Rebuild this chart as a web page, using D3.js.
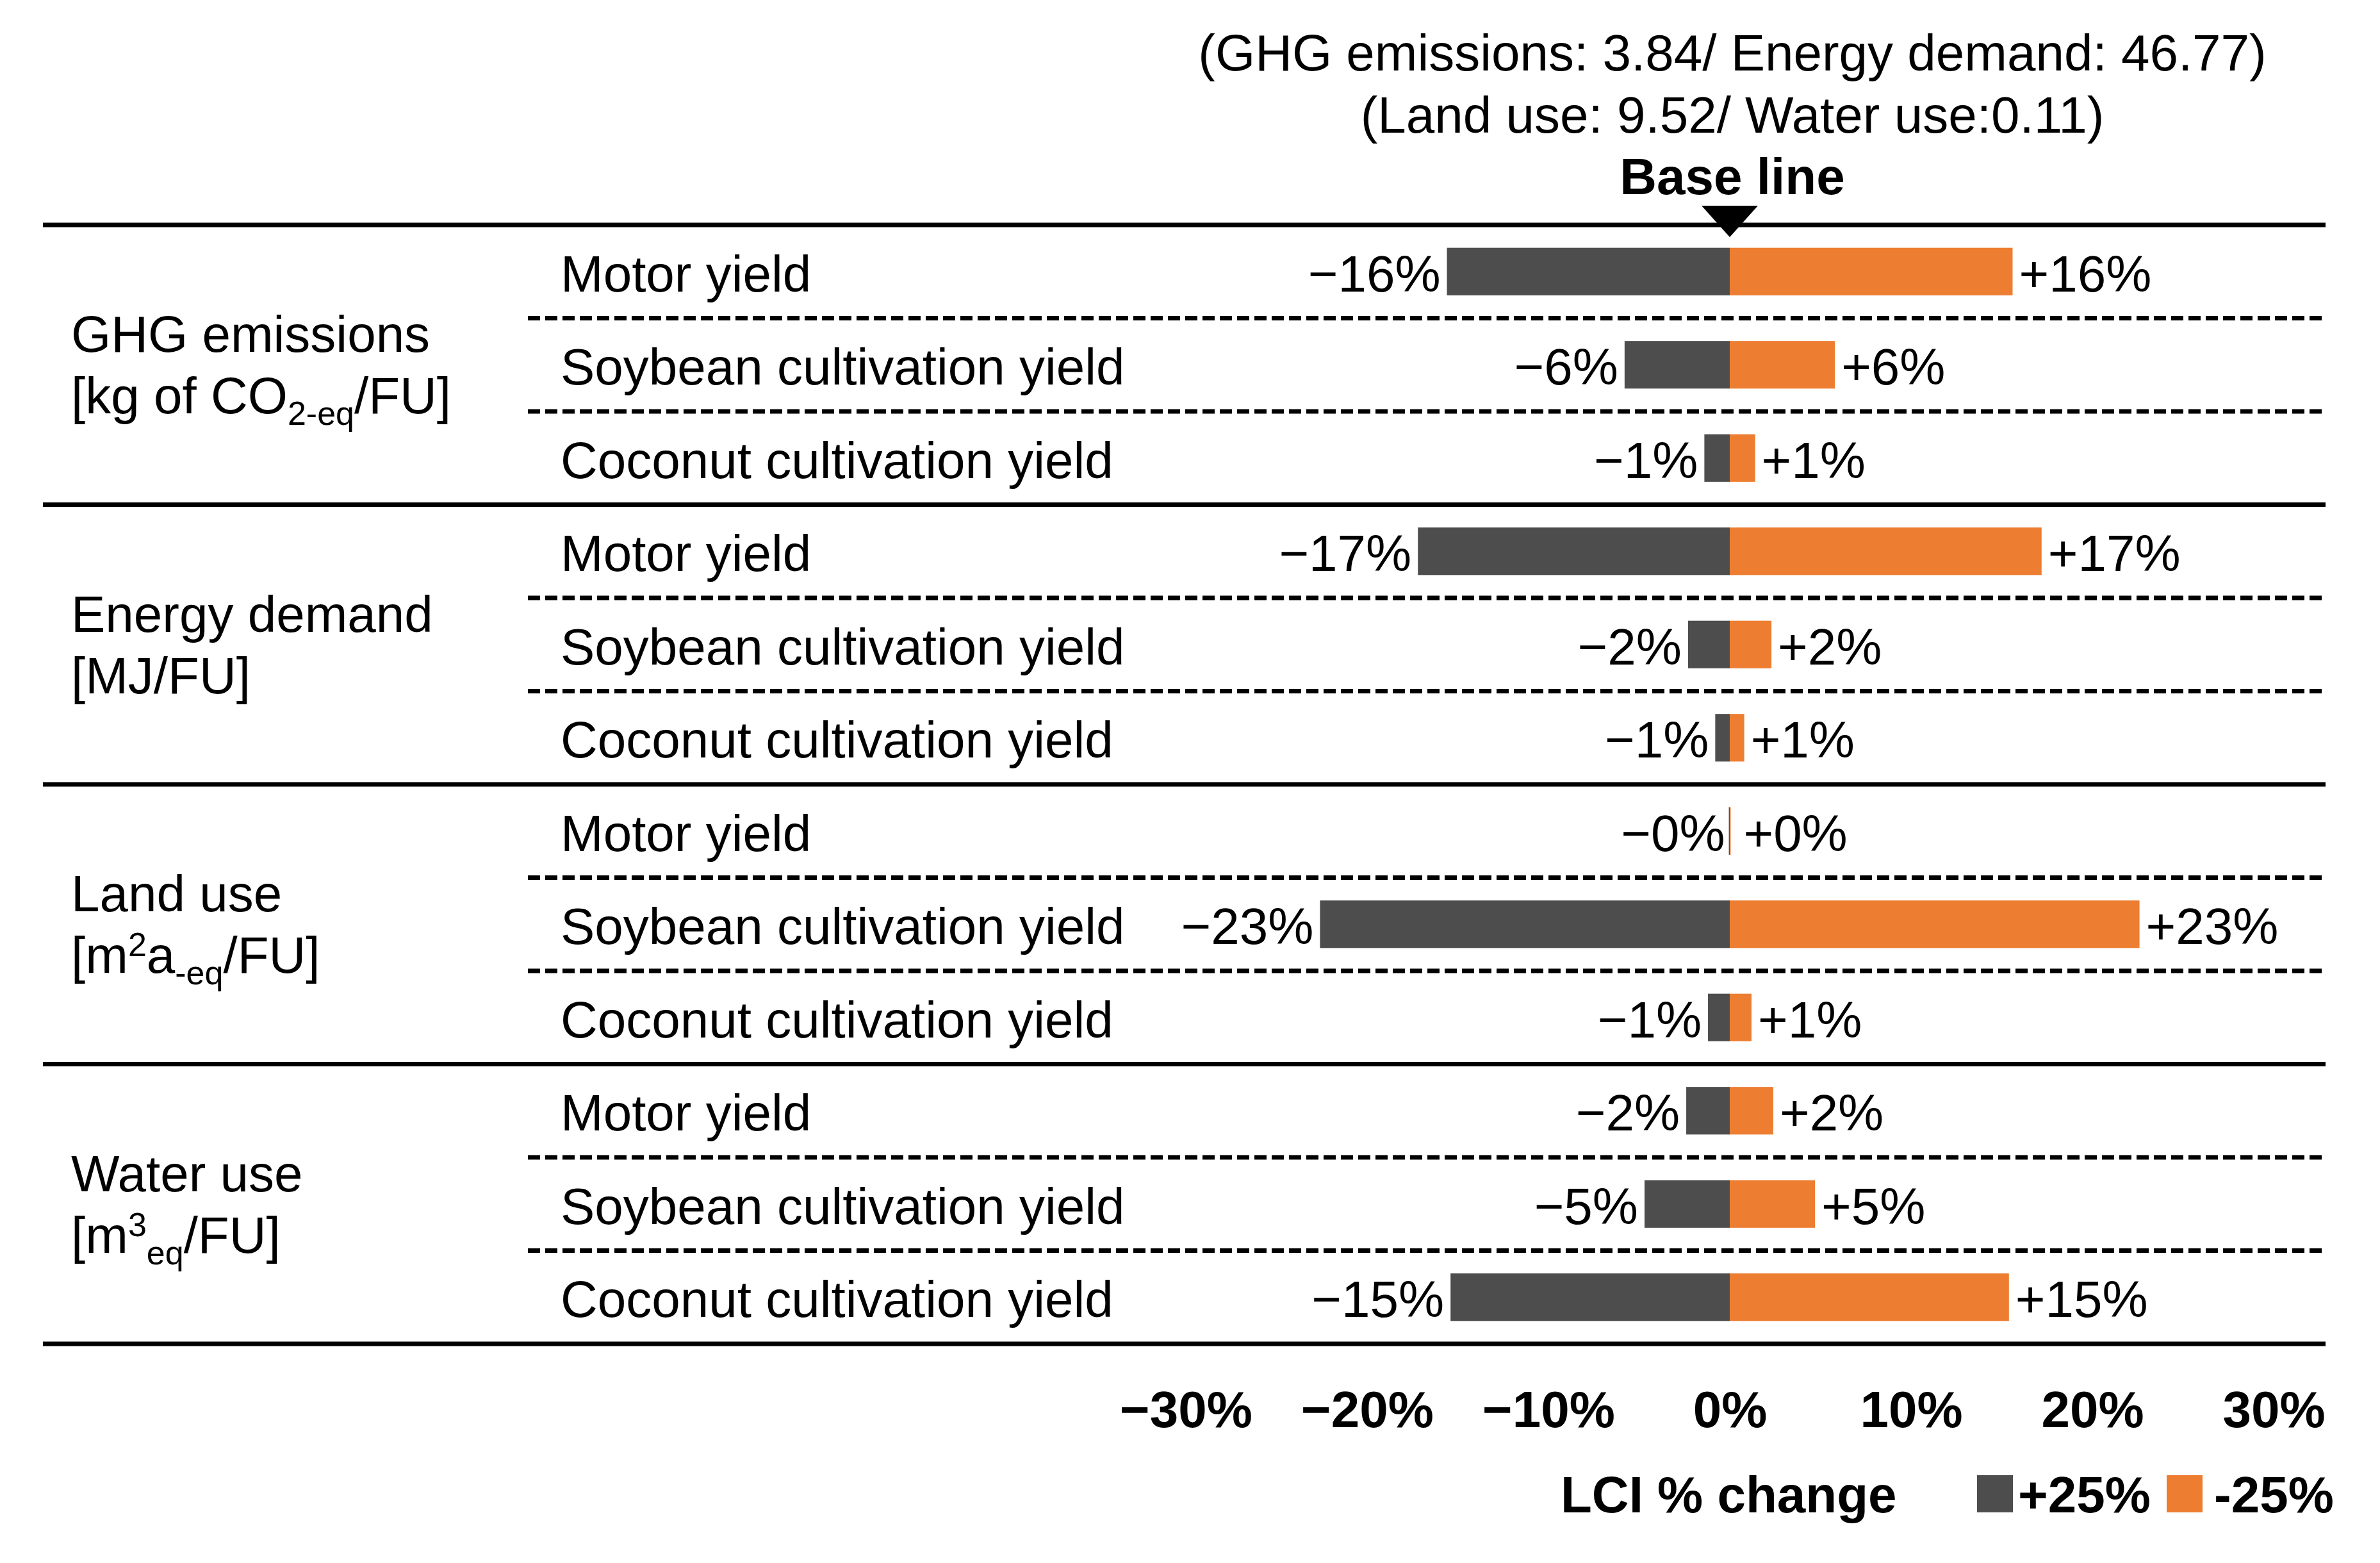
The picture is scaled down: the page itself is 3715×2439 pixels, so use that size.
<!DOCTYPE html>
<html>
<head>
<meta charset="utf-8">
<script src="https://cdn.jsdelivr.net/npm/d3@7"></script>
<style>
  body { margin: 0; background: #fff; }
  text { font-family: "Liberation Sans", Arial, sans-serif; }
</style>
</head>
<body>
<div id="chart"></div>
<script>
// data
const groups = ["GHG emissions", "Energy demand", "Land use", "Water use"];
const factors = ["Motor yield", "Soybean cultivation yield", "Coconut cultivation yield"];
// LCI +25% (grey, left) and LCI -25% (orange, right), in % change
const plusLCI  = [-15.6, -5.8, -1.4, -17.2, -2.3, -0.8, -0.05, -22.6, -1.2, -2.4, -4.7, -15.4];
const minusLCI = [ 15.6,  5.8,  1.4,  17.2,  2.3,  0.8,  0.05,  22.6,  1.2,  2.4,  4.7,  15.4];
const tickValues = [-30, -20, -10, 0, 10, 20, 30];
const headerLines = ["(GHG emissions: 3.84/ Energy demand: 46.77)", "(Land use: 9.52/ Water use:0.11)"];
// unit label pieces: [text, "" | "sub" | "sup"]
const units = [
  [["[kg of CO", ""], ["2-eq", "sub"], ["/FU]", ""]],
  [["[MJ/FU]", ""]],
  [["[m", ""], ["2", "sup"], ["a", ""], ["-eq", "sub"], ["/FU]", ""]],
  [["[m", ""], ["3", "sup"], ["eq", "sub"], ["/FU]", ""]]
];
const legendItems = [{label: "+25%", color: "#4d4d4d"}, {label: "-25%", color: "#ed7d31"}];

const W = 3715, H = 2439;
const fs = 80;
const yTop = 351, yBottom = 2097;
const lineLeft = 67, dashLeft = 824, lineRight = 3630;

const svg = d3.select("#chart").append("svg")
    .attr("width", W)
    .attr("height", H);
svg.append("rect").attr("width", W).attr("height", H).attr("fill", "#fff");

// scales
const x = d3.scaleLinear()
    .domain([-30, 30])
    .range([1851, 3549]);

const rows = [];
groups.forEach((g, gi) => factors.forEach((f, fi) => rows.push({group: g, factor: f, gi: gi, fi: fi})));
rows.forEach((r, i) => { r.id = i; r.lo = plusLCI[i]; r.hi = minusLCI[i]; });

const y = d3.scaleBand()
    .domain(rows.map(d => d.id))
    .range([yTop, yBottom]);
const barH = y.bandwidth() * 0.51;
const groupH = y.bandwidth() * factors.length;

// header
svg.selectAll(".head")
  .data(headerLines)
  .enter().append("text")
    .attr("x", x(0) + 4)
    .attr("y", (d, i) => 110 + i * 97)
    .attr("text-anchor", "middle")
    .attr("font-size", fs)
    .text(d => d);

svg.append("text")
    .attr("x", x(0) + 4)
    .attr("y", 303)
    .attr("text-anchor", "middle")
    .attr("font-size", fs)
    .attr("font-weight", "bold")
    .text("Base line");

// dashed separators between rows within a group
svg.append("g").selectAll("line")
  .data(rows.filter(d => d.fi > 0))
  .enter().append("line")
    .attr("x1", dashLeft).attr("x2", lineRight)
    .attr("y1", d => y(d.id)).attr("y2", d => y(d.id))
    .attr("stroke", "#000")
    .attr("stroke-width", 7)
    .attr("stroke-dasharray", "19,8");

// solid group separators
svg.append("g").selectAll("line")
  .data(d3.range(groups.length + 1))
  .enter().append("line")
    .attr("x1", lineLeft).attr("x2", lineRight)
    .attr("y1", d => yTop + d * groupH).attr("y2", d => yTop + d * groupH)
    .attr("stroke", "#000")
    .attr("stroke-width", 7);

// base line marker
svg.append("path")
    .attr("d", `M${x(0) - 44},321 L${x(0) + 44},321 L${x(0)},370 Z`)
    .attr("fill", "#000");

// bars
svg.append("g").selectAll("rect")
  .data(rows)
  .enter().append("rect")
    .attr("x", d => x(d.lo))
    .attr("y", d => y(d.id) + (y.bandwidth() - barH) / 2)
    .attr("width", d => x(0) - x(d.lo))
    .attr("height", barH)
    .attr("fill", "#4d4d4d");

svg.append("g").selectAll("rect")
  .data(rows)
  .enter().append("rect")
    .attr("x", x(0))
    .attr("y", d => y(d.id) + (y.bandwidth() - barH) / 2)
    .attr("width", d => x(d.hi) - x(0))
    .attr("height", barH)
    .attr("fill", "#ed7d31");

// value labels
const mid = d => y(d.id) + y.bandwidth() / 2 + 31;
svg.append("g").selectAll("text")
  .data(rows)
  .enter().append("text")
    .attr("x", d => x(d.lo) - (Math.abs(d.lo) < 0.5 ? 6 : 10))
    .attr("y", mid)
    .attr("text-anchor", "end")
    .attr("font-size", fs)
    .text(d => "\u2212" + Math.round(Math.abs(d.lo)) + "%");

svg.append("g").selectAll("text")
  .data(rows)
  .enter().append("text")
    .attr("x", d => x(d.hi) + (Math.abs(d.hi) < 0.5 ? 20 : 10))
    .attr("y", mid)
    .attr("font-size", fs)
    .text(d => "+" + Math.round(d.hi) + "%");

// row labels
svg.append("g").selectAll("text")
  .data(rows)
  .enter().append("text")
    .attr("x", 875)
    .attr("y", mid)
    .attr("font-size", fs)
    .text(d => d.factor);

// group labels with units
const gl = svg.append("g").selectAll("g")
  .data(groups)
  .enter().append("g");

gl.append("text")
    .attr("x", 111)
    .attr("y", (d, i) => yTop + (i + 0.5) * groupH - 20)
    .attr("font-size", fs)
    .text(d => d);

gl.append("text")
    .attr("x", 111)
    .attr("y", (d, i) => yTop + (i + 0.5) * groupH + 76)
    .attr("font-size", fs)
    .each(function(d, i) {
      let shift = 0;
      const t = d3.select(this);
      units[i].forEach(([txt, kind]) => {
        const target = kind === "sub" ? 18 : kind === "sup" ? -26 : 0;
        t.append("tspan")
          .attr("dy", target - shift)
          .attr("font-size", kind ? 52 : fs)
          .text(txt);
        shift = target;
      });
    });

// x axis tick labels
const xAxis = svg.append("g")
    .attr("transform", "translate(0,2156)")
    .call(d3.axisBottom(x)
      .tickValues(tickValues)
      .tickSize(0)
      .tickFormat(d => (d < 0 ? "\u2212" + Math.abs(d) : d) + "%"));
xAxis.select(".domain").remove();
xAxis.selectAll("text")
    .attr("font-size", fs)
    .attr("font-weight", "bold")
    .attr("font-family", "'Liberation Sans', Arial, sans-serif")
    .attr("fill", "#000")
    .attr("dy", "0.85em");

// legend
svg.append("text")
    .attr("x", 2436)
    .attr("y", 2360)
    .attr("font-size", fs)
    .attr("font-weight", "bold")
    .text("LCI % change");

const lg = svg.append("g").selectAll("g")
  .data(legendItems)
  .enter().append("g")
    .attr("transform", (d, i) => `translate(${3086 + i * 296},0)`);
lg.append("rect")
    .attr("y", 2302)
    .attr("width", 56)
    .attr("height", 58)
    .attr("fill", d => d.color);
lg.append("text")
    .attr("x", d => d.label[0] === "+" ? 64 : 74)
    .attr("y", 2360)
    .attr("font-size", fs)
    .attr("font-weight", "bold")
    .text(d => d.label);
</script>
</body>
</html>
